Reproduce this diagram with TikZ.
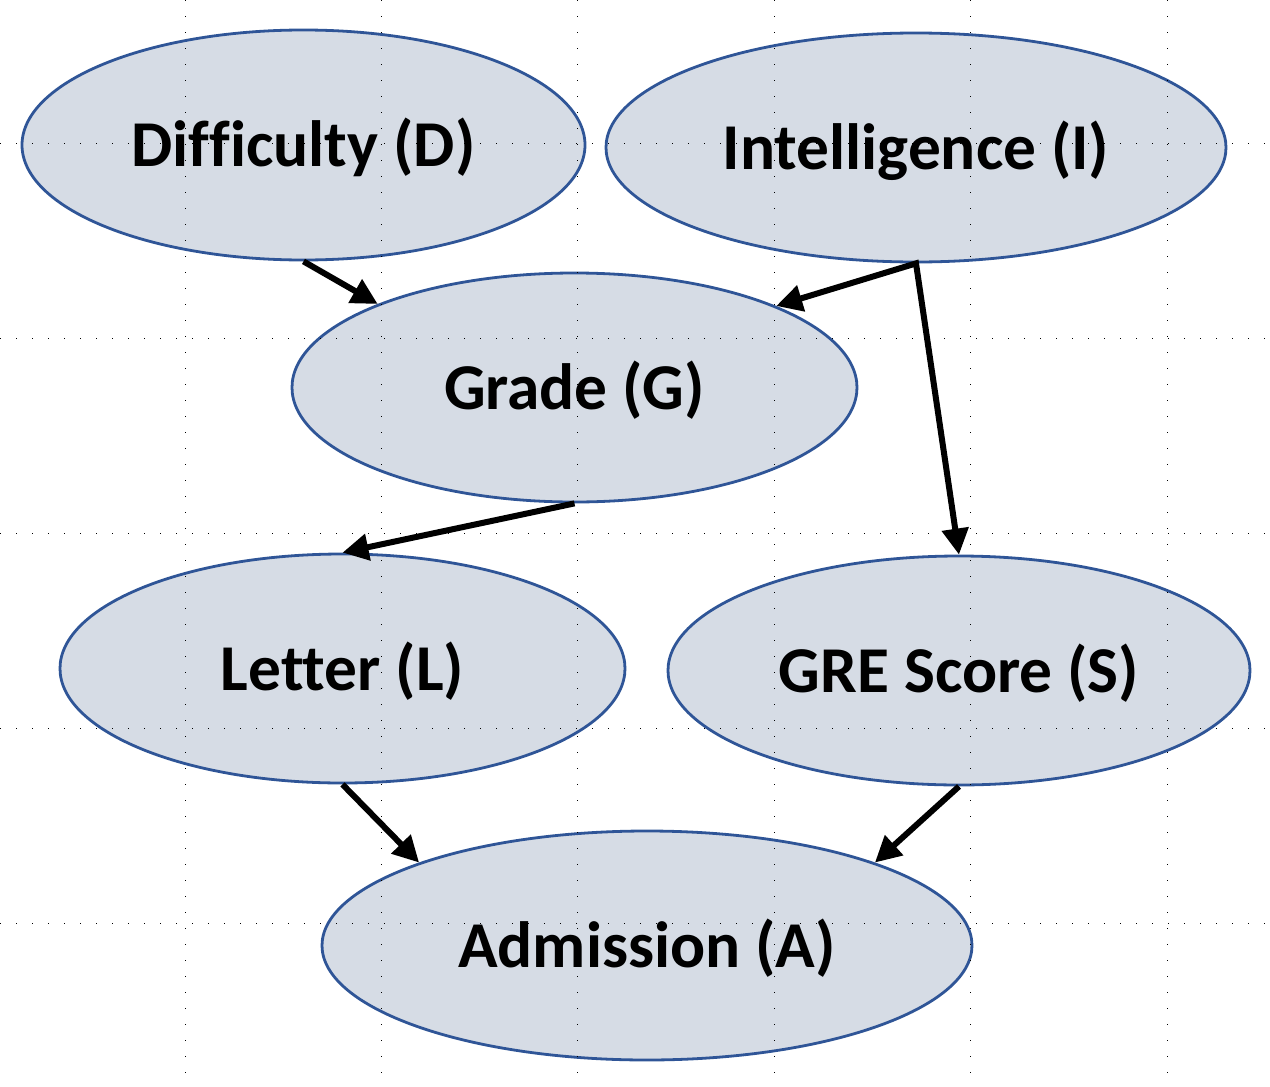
\documentclass[tikz,border=0pt]{standalone}
\usepackage{fontspec}
\setmainfont{Carlito}[Ligatures={NoCommon}]
\usetikzlibrary{shapes.geometric,arrows.meta}
\definecolor{nodefill}{HTML}{D6DCE5}
\definecolor{nodeline}{HTML}{2F5597}
\tikzset{
  var/.style={ellipse, draw=nodeline, line width=1.4pt, fill=nodefill, inner sep=0pt,
    font=\fontsize{32.7}{38}\selectfont\bfseries, text height=21.6pt, text depth=0pt},
  edge/.style={line width=3pt, black, -{Triangle[length=13pt,width=13pt]}},
  guide/.style={line width=0.5pt, black, dash pattern=on 0.5pt off 7.5pt}
}
\begin{document}
\begin{tikzpicture}[x=0.5pt,y=-0.5pt]
\useasboundingbox (0,0) rectangle (1270,1087);
\fill[white] (0,0) rectangle (1270,1087);
\node[var, minimum width=281.5pt, minimum height=115pt] (D) at (303.5,145) {Difficulty (D)};
\node[var, minimum width=310pt, minimum height=114.5pt] (I) at (916,147.5) {Intelligence (I)};
\node[var, minimum width=282.5pt, minimum height=114.5pt] (G) at (574.5,387.5) {Grade (G)};
\node[var, minimum width=282.5pt, minimum height=114.5pt] (L) at (342.5,668.5) {Letter (L)};
\node[var, minimum width=291pt, minimum height=114.5pt] (S) at (959,670.5) {GRE Score (S)};
\node[var, minimum width=325pt, minimum height=114.5pt] (A) at (647,945.5) {Admission (A)};
% guides
\foreach \gx in {185,381.4,577.8,774.2,970.6,1167} \draw[guide] (\gx,0) -- (\gx,1087);
\foreach \gy in {143,338,533,728,923} \draw[guide] (0,\gy) -- (1270,\gy);
% edges
\draw[edge] (D.south) -- (G.157.5);
\draw[line width=3pt, black, {Triangle[length=13pt,width=13pt]}-{Triangle[length=13pt,width=13pt]}] (G.22) -- (I.south) -- (S.north);
\draw[edge] (G.south) -- (L.north);
\draw[edge] (L.south) -- (A.160);
\draw[edge] (S.south) -- (A.20);
\end{tikzpicture}
\end{document}
